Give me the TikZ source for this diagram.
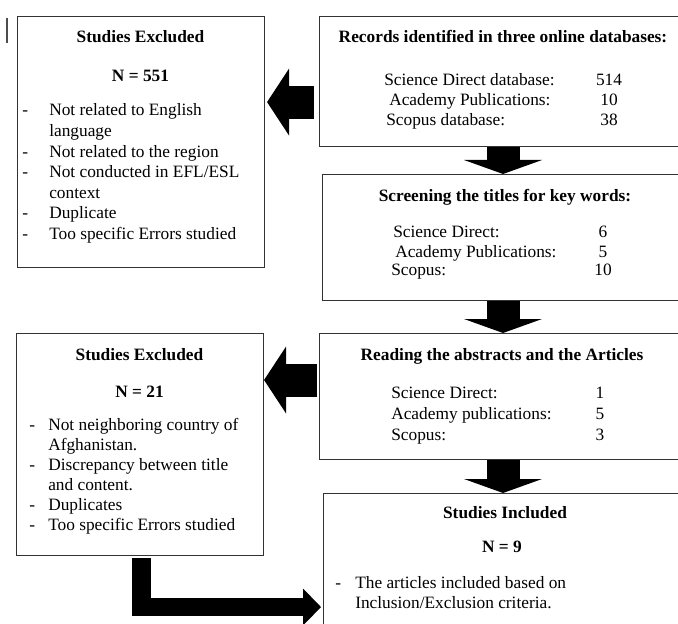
\documentclass[tikz,border=0pt]{standalone}
\usepackage{fontspec}
\setmainfont{Liberation Serif}
\usetikzlibrary{arrows.meta}

\tikzset{
  box/.style={draw=black!80, line width=0.8pt, inner sep=0pt, anchor=north west},
  ttl/.style={font=\fontsize{13}{15}\selectfont\bfseries, anchor=base, inner sep=0pt},
  lst/.style={anchor=base west, inner sep=0pt},
  num/.style={anchor=base, inner sep=0pt},
  sidearrow/.style={line width=24.75pt, -{Triangle[width=50.25pt, length=16.5pt, line width=0pt]}},
  downarrow/.style={line width=24.75pt, -{Triangle[width=58.5pt, length=10.5pt, line width=0pt]}},
  bendarrow/.style={line width=14pt, -{Triangle[width=27.75pt, length=13.5pt, line width=0pt]}},
}

\begin{document}
\begin{tikzpicture}[x=0.75pt, y=-0.75pt, font=\fontsize{13}{15}\selectfont]
  \useasboundingbox (0,0) rectangle (678,624);
  \clip (0,0) rectangle (678,624);

  \node[box, minimum width=185.25pt, minimum height=188.25pt] (exa) at (17,16) {};
  \node[box, minimum width=185.25pt, minimum height=166.5pt] (exb) at (16,333) {};
  \node[box, minimum width=275.25pt, minimum height=97.5pt] (rec) at (319,16) {};
  \node[box, minimum width=273pt, minimum height=94.5pt] (scr) at (322,174) {};
  \node[box, minimum width=275.25pt, minimum height=94.5pt] (rdg) at (319,333) {};
  \node[box, minimum width=272.25pt, minimum height=110.25pt] (inc) at (323,493) {};

  \draw[line width=1pt, black!70] (7,18) -- (7,43);

  \node[ttl] (exa-t) at (140.5,43) {Studies Excluded};
  \node[ttl] (exa-n) at (140.5,82) {N = 551};
  \node[lst, font=\fontsize{13}{15.4}\selectfont] (exa-l) at (22,116) {%
    \begin{tabular}[t]{@{}p{20.25pt}@{}l@{}}
      - & Not related to English\\
        & language\\
      - & Not related to the region\\
      - & Not conducted in EFL/ESL\\
        & context\\
      - & Duplicate\\
      - & Too specific Errors studied
    \end{tabular}};

  \node[ttl] (exb-t) at (139.5,360) {Studies Excluded};
  \node[ttl] (exb-n) at (139.5,397) {N = 21};
  \node[lst] (exb-l) at (29,430) {%
    \begin{tabular}[t]{@{}p{14.25pt}@{}l@{}}
      - & Not neighboring country of\\
        & Afghanistan.\\
      - & Discrepancy between title\\
        & and content.\\
      - & Duplicates\\
      - & Too specific Errors studied
    \end{tabular}};

  \node[ttl] (rec-t) at (503,43) {Records identified in three online databases:};
  \node[lst] (rec-l) at (384,86) {%
    \begin{tabular}[t]{@{}l@{}}
      Science Direct database:\\
      \hspace{3.75pt}Academy Publications:\\
      \hspace{1.5pt}Scopus database:
    \end{tabular}};
  \node[num] (rec-n) at (609,86) {%
    \begin{tabular}[t]{@{}c@{}}
      514\\ 10\\ 38
    \end{tabular}};

  \node[ttl] (scr-t) at (505,201) {Screening the titles for key words:};
  \node[lst, font=\fontsize{13}{14.25}\selectfont] (scr-l) at (391,238) {%
    \begin{tabular}[t]{@{}l@{}}
      \hspace{1.5pt}Science Direct:\\
      \hspace{3pt}Academy Publications:\\
      Scopus:
    \end{tabular}};
  \node[num, font=\fontsize{13}{14.25}\selectfont] (scr-n) at (603,238) {%
    \begin{tabular}[t]{@{}c@{}}
      6\\ 5\\ 10
    \end{tabular}};

  \node[ttl] (rdg-t) at (502,360) {Reading the abstracts and the Articles};
  \node[lst, font=\fontsize{13}{15.75}\selectfont] (rdg-l) at (391,398) {%
    \begin{tabular}[t]{@{}l@{}}
      Science Direct:\\
      Academy publications:\\
      Scopus:
    \end{tabular}};
  \node[num, font=\fontsize{13}{15.75}\selectfont] (rdg-n) at (600,398) {%
    \begin{tabular}[t]{@{}c@{}}
      1\\ 5\\ 3
    \end{tabular}};

  \node[ttl] (inc-t) at (505,518) {Studies Included};
  \node[ttl] (inc-n) at (502,552) {N = 9};
  \node[lst] (inc-l) at (335,588) {%
    \begin{tabular}[t]{@{}p{15pt}@{}l@{}}
      - & The articles included based on\\
        & Inclusion/Exclusion criteria.
    \end{tabular}};

  \coordinate (ra) at ([yshift=-15.4pt]rec.west);
  \coordinate (rb) at ([yshift=12.4pt]rdg.west);
  \draw[sidearrow, shorten <=3.75pt, shorten >=1.5pt] (ra) -- (ra -| exa.east);
  \draw[sidearrow, shorten <=1.5pt] (rb) -- (rb -| exb.east);

  \draw[downarrow] (rec.south) -- (rec.south |- scr.north);
  \draw[downarrow] (scr.south -| rec.south) -- (rdg.north -| rec.south);
  \draw[downarrow] (rdg.south) -- (rdg.south |- inc.north);

  \draw[bendarrow, shorten <=1.5pt, shorten >=1.5pt] ([xshift=1pt]exb.south) |- ([yshift=-30pt]inc.west);
\end{tikzpicture}
\end{document}
